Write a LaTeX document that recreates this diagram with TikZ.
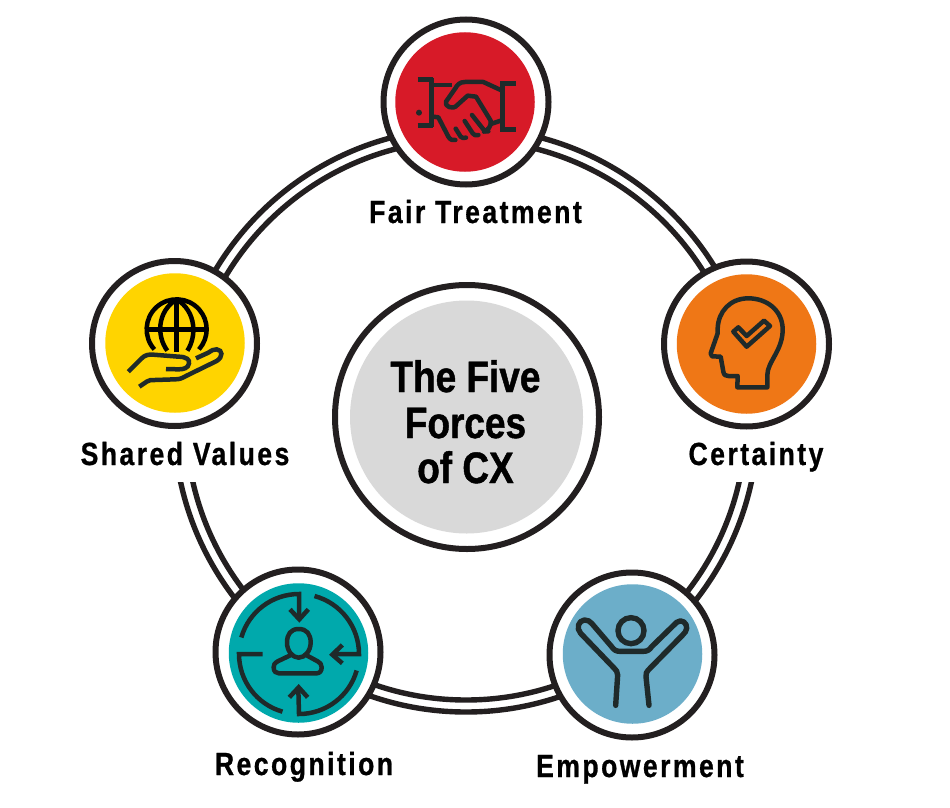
\documentclass[tikz,border=0pt]{standalone}
\usepackage{fontspec}
\setmainfont{Liberation Sans}
\newfontfamily\labfont{Liberation Sans}[FakeStretch=0.83,LetterSpace=7.7,BoldFeatures={FakeBold=0.8}]
\newfontfamily\midfont{Liberation Sans}[FakeStretch=0.84,BoldFeatures={FakeBold=1}]
\definecolor{cred}{HTML}{D71A28}
\definecolor{corange}{HTML}{EF7716}
\definecolor{cyellow}{HTML}{FFD400}
\definecolor{cteal}{HTML}{00A9AC}
\definecolor{cblue}{HTML}{6CAEC9}
\definecolor{cgray}{HTML}{D9D9D9}
\definecolor{cdark}{HTML}{231F20}
\definecolor{cicon}{HTML}{1F2A2A}
\tikzset{
  ringline/.style={draw=cdark,line width=5.4pt},
  forcering/.style={circle,draw=cdark,fill=white,line width=6pt,minimum size=165pt,inner sep=0pt},
  forcedisc/.style={circle,minimum size=139.5pt,inner sep=0pt},
  forcelabel/.style={anchor=base,inner sep=0pt,font=\labfont\bfseries\fontsize{32}{32}\selectfont},
  midlabel/.style={anchor=base,inner sep=0pt,font=\midfont\bfseries\fontsize{44}{44}\selectfont},
  iconline/.style={draw=cicon,line width=4.5pt,line join=round,line cap=round},
  iconbutt/.style={draw=cicon,line width=4.5pt,line join=miter,line cap=butt},
  globeline/.style={draw=black,line width=4.5pt},
  zoomed/.style={x=0.33333pt,y=-0.33333pt}
}
\begin{document}
\begin{tikzpicture}[x=1pt,y=-1pt]
\useasboundingbox (0,0) rectangle (950,808);
% ring
\coordinate (ringc) at (466,420);
\draw[ringline] (ringc) circle[radius=292];
\draw[ringline] (ringc) circle[radius=280];
\fill[white] (165,425) rectangle (205,482);
\fill[white] (725,425) rectangle (765,482);
% force circles
\node[forcering] (fairR) at (466,102) {};
\node[forcedisc,fill=cred] (fairD) at (465,102) {};
\node[forcering] (certR) at (746.5,344) {};
\node[forcedisc,fill=corange] (certD) at (746.5,344) {};
\node[forcering] (shareR) at (174.5,343.5) {};
\node[forcedisc,fill=cyellow] (shareD) at (175,343) {};
\node[forcering] (recoR) at (298,652) {};
\node[forcedisc,fill=cteal] (recoD) at (298.5,653) {};
\node[forcering] (empoR) at (632,655) {};
\node[forcedisc,fill=cblue] (empoD) at (632.5,654) {};
% centre
\node[circle,draw=cdark,fill=white,line width=6pt,minimum size=264pt,inner sep=0pt] (midR) at (467,417) {};
\node[circle,fill=cgray,minimum size=233pt,inner sep=0pt] (midD) at (466.5,417) {};
\node[midlabel] (mid1) at (465.5,392) {The Five};
\node[midlabel] (mid2) at (465.5,438) {Forces};
\node[midlabel] (mid3) at (465.5,483) {of CX};
% labels
\node[forcelabel] (fairL) at (475.5,223) {Fair Treatment};
\node[forcelabel] (shareL) at (185,465) {Shared Values};
\node[forcelabel] (certL) at (756,465) {Certainty};
\node[forcelabel] (recoL) at (304,775) {Recognition};
\node[forcelabel] (empoL) at (640,777) {Empowerment};
% handshake
\begin{scope}[shift={(370,0)},zoomed]
  \draw[iconbutt] (143,238) -- (190,238);
  \draw[iconbutt] (143,376) -- (190,376);
  \draw[iconbutt] (185,233) -- (185,381);
  \draw[iconbutt] (190,255) -- (245,255);
  \draw[iconbutt] (390,250) -- (438,250);
  \draw[iconbutt] (390,388) -- (438,388);
  \draw[iconbutt] (397,245) -- (397,393);
  \fill[cicon] (147,338) circle[radius=9];
  \draw[iconline] (392,270) -- (340,246) -- (285,246) .. controls (268,246) and (262,255) .. (256,265) -- (228,305) .. controls (222,318) and (248,332) .. (262,315) -- (293,287) -- (318,290) -- (362,362) .. controls (366,378) and (352,392) .. (342,395);
  \draw[iconline] (362,372) -- (392,362);
  \draw[iconline] (190,350) -- (205,352) -- (235,410) .. controls (240,420) and (250,422) .. (256,420);
  \draw[iconline] (257,386) -- (272,410) .. controls (275,414) and (282,415) .. (288,413);
  \draw[iconline] (284,363) -- (308,400) .. controls (312,406) and (318,407) .. (325,405);
  \draw[iconline] (306,345) -- (340,388) .. controls (344,394) and (350,396) .. (355,394);
\end{scope}
% head with tick
\begin{scope}[shift={(650,250)},zoomed]
  \draw[iconline] (262,412) -- (352,412) -- (352,375) .. controls (352,335) and (400,300) .. (398,235) .. controls (396,180) and (350,145) .. (295,145) .. controls (240,145) and (205,185) .. (203,235) -- (203,250) -- (182,310) -- (186,319) -- (212,320) -- (220,365) .. controls (222,375) and (226,378) .. (235,378) -- (263,378) -- cycle;
  \draw[iconline] (250,245) -- (265,232) -- (290,258) -- (342,212) -- (360,228) -- (290,290) -- cycle;
\end{scope}
% globe in hand
\begin{scope}[shift={(80,260)},zoomed]
  \coordinate (gc) at (290,208);
  \draw[globeline] ([shift={(138:90)}]gc) arc[start angle=138,end angle=402,radius=90];
  \draw[globeline] (200,208) -- (380,208);
  \draw[globeline] (290,118) -- (290,275);
  \draw[globeline] (290,118) .. controls (230,155) and (230,230) .. (262,272);
  \draw[globeline] (290,118) .. controls (350,155) and (350,230) .. (322,272);
  \draw[iconbutt] (145,335) -- (185,295) .. controls (195,285) and (205,283) .. (220,284) -- (295,290) .. controls (320,290) and (330,300) .. (327,310) .. controls (325,325) and (310,328) .. (295,328) -- (258,327);
  \draw[iconbutt] (178,380) -- (200,365) .. controls (205,360) and (215,360) .. (225,360) -- (285,358) .. controls (300,358) and (305,355) .. (320,347) -- (410,303) .. controls (430,290) and (428,270) .. (410,268) .. controls (400,267) and (395,272) .. (385,278) -- (348,295);
\end{scope}
% recognition
\begin{scope}[shift={(205,560)},zoomed]
  \coordinate (rc) at (282,282);
  \draw[iconbutt] ([shift={(196:180)}]rc) arc[start angle=196,end angle=270,radius=180] -- (282,175);
  \draw[iconbutt] (255,148) -- (283,178) -- (310,148);
  \draw[iconbutt] ([shift={(285:180)}]rc) arc[start angle=285,end angle=360,radius=180] -- (388,282);
  \draw[iconbutt] (412,255) -- (382,284) -- (412,310);
  \draw[iconbutt] ([shift={(16:180)}]rc) arc[start angle=16,end angle=90,radius=180] -- (280,387);
  \draw[iconbutt] (253,412) -- (281,382) -- (308,412);
  \draw[iconbutt] ([shift={(106:180)}]rc) arc[start angle=106,end angle=180,radius=180] -- (173,282);
  \draw[iconline] (281,207) .. controls (305,207) and (317,222) .. (317,248) .. controls (317,272) and (300,293) .. (281,293) .. controls (262,293) and (246,272) .. (246,248) .. controls (246,222) and (258,207) .. (281,207) -- cycle;
  \draw[iconline] (258,285) -- (218,304) .. controls (208,310) and (206,315) .. (206,322) .. controls (206,335) and (213,340) .. (222,340) -- (335,340) .. controls (345,340) and (350,332) .. (350,322) .. controls (350,312) and (345,308) .. (338,304) -- (303,285);
\end{scope}
% empowerment
\begin{scope}[shift={(540,560)},zoomed]
  \draw[draw=cicon,line width=5.4pt] (273,212) circle[radius=39];
  \draw[draw=cicon,line width=5.4pt,line join=round,line cap=round] (227,436) -- (233,345) .. controls (233,335) and (228,330) .. (222,324) -- (122,220) .. controls (108,205) and (115,182) .. (133,180) .. controls (142,179) and (150,184) .. (155,190) -- (215,260) .. controls (222,270) and (228,274) .. (240,274) -- (310,274) .. controls (322,274) and (328,270) .. (335,260) -- (410,187) .. controls (425,175) and (442,190) .. (440,205) .. controls (439,213) and (435,218) .. (428,225) -- (325,330) .. controls (320,335) and (317,340) .. (318,350) -- (327,436);
\end{scope}
\end{tikzpicture}
\end{document}
